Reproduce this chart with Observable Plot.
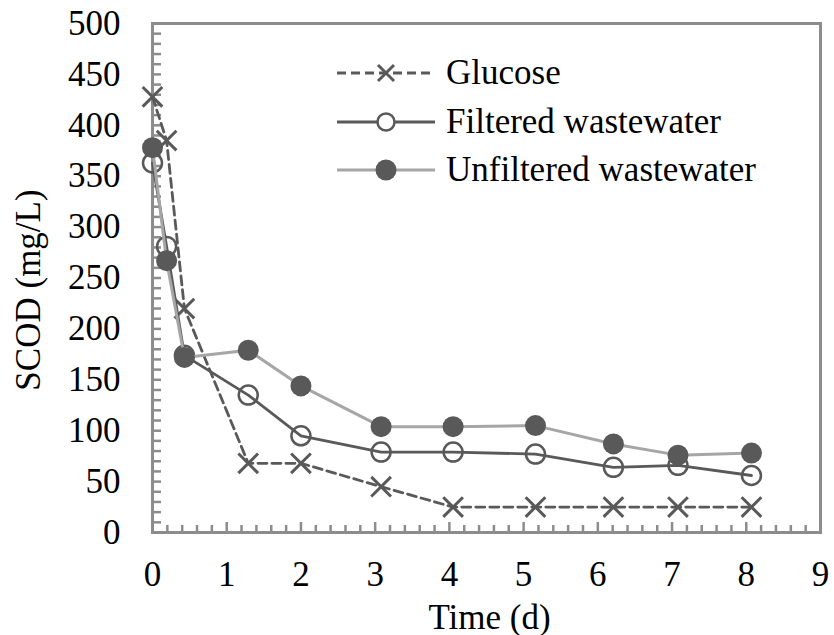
<!DOCTYPE html>
<html>
<head>
<meta charset="utf-8">
<script src="https://cdn.jsdelivr.net/npm/d3@7"></script>
<script src="https://cdn.jsdelivr.net/npm/@observablehq/plot@0.6"></script>
<style>
  html, body { margin: 0; padding: 0; background: #fff; }
  #chart { width: 834px; height: 635px; }
</style>
</head>
<body>
<div id="chart"></div>
<script>
// ---- data ----
const times = [0, 0.19, 0.43, 1.29, 2, 3.08, 4.05, 5.16, 6.21, 7.08, 8.07];
const glucose = [428, 385, 220, 68, 68, 45, 25, 25, 25, 25, 25];
const filtered = [363, 281, 174, 135, 95, 79, 79, 77, 64, 66, 56];
const unfiltered = [378, 267, 172, 179, 144, 104, 104, 105, 87, 76, 78];
const seriesNames = ["Glucose", "Filtered wastewater", "Unfiltered wastewater"];
const xTickValues = [0, 1, 2, 3, 4, 5, 6, 7, 8, 9];
const xMinorTicks = d3.range(0, 45).map(i => i / 5).filter(v => Math.abs(v - Math.round(v)) > 1e-9);
const yTickValues = [0, 50, 100, 150, 200, 250, 300, 350, 400, 450, 500];
const yMinorTicks = d3.range(0, 500, 10);
const xLabel = "Time (d)";
const yLabel = "SCOD (mg/L)";

// ---- build rows ----
const rows = (vals, s) => times.map((t, i) => ({t, v: vals[i], s}));
const gData = rows(glucose, seriesNames[0]);
const fData = rows(filtered, seriesNames[1]);
const uData = rows(unfiltered, seriesNames[2]);

const W = 834, H = 635;
const mL = 152, mR = 14, mT = 23, mB = 103;
const plotW = W - mL - mR, plotH = H - mT - mB;
const FONT = "'Liberation Serif', 'Times New Roman', serif";
const FS = 35;
const dark = "#595959", light = "#a6a6a6", axisCol = "#8c8c8c";

const chart = Plot.plot({
  width: W, height: H,
  marginLeft: mL, marginRight: mR, marginTop: mT, marginBottom: mB,
  style: {fontFamily: FONT, fontSize: FS + "px", background: "#fff", color: "#000"},
  x: {domain: [0, 9]},
  y: {domain: [0, 500]},
  marks: [
    // inward ticks
    Plot.tickY(yMinorTicks, {y: d => d, stroke: axisCol, strokeWidth: 2.5, insetRight: plotW - 9}),
    Plot.tickX(xMinorTicks, {x: d => d, stroke: axisCol, strokeWidth: 2.5, insetTop: plotH - 7}),
    Plot.tickX(xTickValues, {x: d => d, stroke: axisCol, strokeWidth: 2.5, insetTop: plotH - 10}),
    Plot.frame({stroke: axisCol, strokeWidth: 3}),
    Plot.axisY(yTickValues, {tickSize: 0, tickPadding: 32, fontSize: FS, fill: "#000", label: null}),
    Plot.axisX(xTickValues, {tickSize: 0, tickPadding: 29, fontSize: FS, fill: "#000", label: null}),
    Plot.text([xLabel], {frameAnchor: "bottom", textAnchor: "middle", dx: 3, dy: 96, lineAnchor: "bottom", fontSize: FS, fill: "#000"}),
    Plot.text([yLabel], {frameAnchor: "left", textAnchor: "middle", rotate: -90, dx: -137, dy: 12, lineAnchor: "top", fontSize: FS, fill: "#000"}),
    // Glucose
    Plot.line(gData, {x: "t", y: "v", stroke: dark, strokeWidth: 2.8, strokeDasharray: "9,5"}),
    Plot.dot(gData, {x: "t", y: "v", symbol: "times", r: 9, stroke: dark, strokeWidth: 3}),
    // Filtered
    Plot.line(fData, {x: "t", y: "v", stroke: dark, strokeWidth: 2.8}),
    Plot.dot(fData, {x: "t", y: "v", symbol: "circle", r: 9.5, stroke: dark, strokeWidth: 2.5, fill: "none"}),
    // Unfiltered
    Plot.line(uData, {x: "t", y: "v", stroke: light, strokeWidth: 3}),
    Plot.dot(uData, {x: "t", y: "v", symbol: "circle", r: 10.5, fill: dark, stroke: "none"})
  ]
});

// ---- legend inside the plot ----
const svg = d3.select(chart);
const leg = svg.append("g").attr("font-family", FONT).attr("font-size", FS).attr("text-anchor", "start");
const legRows = [
  {name: seriesNames[0], y: 73, line: dark, dash: "9,5", marker: "x"},
  {name: seriesNames[1], y: 122, line: dark, dash: null, marker: "open"},
  {name: seriesNames[2], y: 170, line: light, dash: null, marker: "filled"}
];
const lx0 = 337, lx1 = 435, lmx = 386, ltx = 446;
legRows.forEach(r => {
  const g = leg.append("g");
  g.append("line").attr("x1", lx0).attr("x2", lx1).attr("y1", r.y).attr("y2", r.y)
    .attr("stroke", r.line).attr("stroke-width", r.marker === "filled" ? 3 : 2.8)
    .attr("stroke-dasharray", r.dash);
  if (r.marker === "x") {
    const s = 8;
    g.append("path").attr("d", `M${lmx - s},${r.y - s}L${lmx + s},${r.y + s}M${lmx - s},${r.y + s}L${lmx + s},${r.y - s}`)
      .attr("stroke", dark).attr("stroke-width", 3).attr("fill", "none");
  } else if (r.marker === "open") {
    g.append("circle").attr("cx", lmx).attr("cy", r.y).attr("r", 8.5)
      .attr("fill", "#fff").attr("stroke", dark).attr("stroke-width", 2.5);
  } else {
    g.append("circle").attr("cx", lmx).attr("cy", r.y).attr("r", 10.5).attr("fill", dark);
  }
  g.append("text").attr("x", ltx).attr("y", r.y).attr("dy", "0.32em").attr("fill", "#000").attr("text-anchor", "start").text(r.name);
});

document.getElementById("chart").appendChild(chart);
</script>
</body>
</html>
